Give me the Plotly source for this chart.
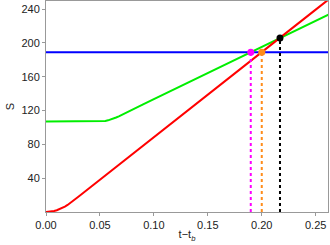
import plotly.graph_objects as go

# Data
red_t = [0.0, 0.0025, 0.005, 0.0075, 0.01, 0.0125, 0.015, 0.0175, 0.02, 0.0225, 0.025,
         0.03, 0.04, 0.05, 0.1, 0.15, 0.2, 0.25, 0.262]
red_s = [0.0, 0.13, 0.52, 1.17, 2.08, 3.25, 4.68, 6.37, 8.31, 10.5, 12.9,
         18.0, 28.1, 38.1, 88.4, 138.7, 189.0, 239.3, 251.4]

green_t = [0.0, 0.05, 0.0525, 0.055, 0.0575, 0.06, 0.0625, 0.065, 0.0675, 0.07, 0.0725,
           0.075, 0.08, 0.09, 0.1, 0.15, 0.2, 0.25, 0.262]
green_s = [107.0, 107.0, 107.2, 107.7, 108.4, 109.3, 110.4, 111.7, 113.1, 114.6, 116.1,
           117.7, 120.9, 127.2, 133.6, 164.4, 195.2, 226.0, 233.4]

blue_t = [0.0, 0.262]
blue_s = [189.0, 189.0]

dot_t = [0.1898, 0.2, 0.2169]
dot_s = [189.0, 189.0, 205.7]
dot_colors = ["#FF00FF", "#FF8C1A", "#000000"]

x_ticks = [0.0, 0.05, 0.10, 0.15, 0.20, 0.25]
x_labels = ["0.00", "0.05", "0.10", "0.15", "0.20", "0.25"]
y_ticks = [40, 80, 120, 160, 200, 240]

fig = go.Figure()
fig.add_trace(go.Scatter(x=blue_t, y=blue_s, mode="lines",
                         line=dict(color="#0000FF", width=2), showlegend=False))
fig.add_trace(go.Scatter(x=green_t, y=green_s, mode="lines",
                         line=dict(color="#00EE00", width=2), showlegend=False))
fig.add_trace(go.Scatter(x=red_t, y=red_s, mode="lines",
                         line=dict(color="#FF0000", width=2), showlegend=False))
for t, s, c in zip(dot_t, dot_s, dot_colors):
    fig.add_trace(go.Scatter(x=[t, t], y=[0, s], mode="lines",
                             line=dict(color=c, width=2, dash="dot"), showlegend=False))
fig.add_trace(go.Scatter(x=dot_t, y=dot_s, mode="markers",
                         marker=dict(color=dot_colors, size=7), showlegend=False))

font = dict(family="Liberation Sans, Arial", size=11, color="#222")
axis_common = dict(showline=True, linecolor="#999999", linewidth=1, mirror=True,
                   ticks="outside", ticklen=3, tickcolor="#999999", showgrid=False,
                   zeroline=False, tickfont=font, automargin=False)
fig.update_xaxes(range=[0, 0.2614], tickvals=x_ticks, ticktext=x_labels,
                 title=dict(text="t\u2212t<sub><i>b</i></sub>", standoff=0, font=font),
                 **axis_common)
fig.update_yaxes(range=[0, 249.5], tickvals=y_ticks,
                 title=dict(text="S", standoff=4, font=font),
                 **axis_common)
fig.update_layout(width=330, height=245, margin=dict(l=46, r=2, t=1, b=33, autoexpand=False),
                  plot_bgcolor="white", paper_bgcolor="white")
fig.write_html("out.html", config={"displayModeBar": False},
               post_script="document.body.style.margin='0';")
